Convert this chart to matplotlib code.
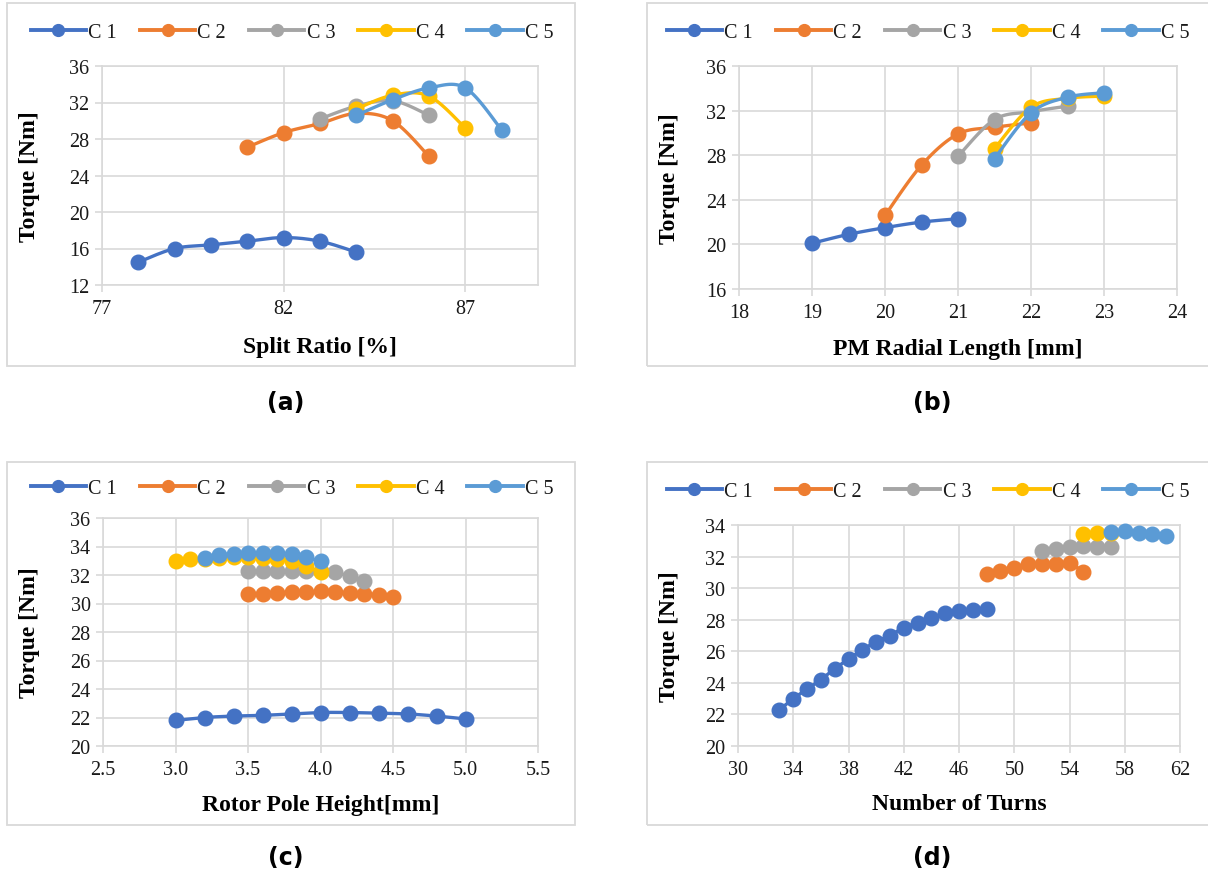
import numpy as np
import matplotlib
matplotlib.use("Agg")
import matplotlib.pyplot as plt
from matplotlib.lines import Line2D
from matplotlib.patches import Rectangle

W, H = 1208, 878
DPI = 100

# ---------------- data ----------------
series_names = ["C 1", "C 2", "C 3", "C 4", "C 5"]
colors = ["#4472C4", "#ED7D31", "#A5A5A5", "#FFC000", "#5B9BD5"]

# (a) Split ratio [%]
a_x1 = [78, 79, 80, 81, 82, 83, 84]
a_y1 = [14.5, 16.0, 16.4, 16.8, 17.2, 16.8, 15.6]
a_x2 = [81, 82, 83, 84, 85, 86]
a_y2 = [27.1, 28.7, 29.7, 30.8, 30.0, 26.1]
a_x3 = [83, 84, 85, 86]
a_y3 = [30.2, 31.6, 32.2, 30.6]
a_x4 = [84, 85, 86, 87]
a_y4 = [31.3, 32.8, 32.7, 29.2]
a_x5 = [84, 85, 86, 87, 88]
a_y5 = [30.6, 32.3, 33.6, 33.6, 29.0]

# (b) PM radial length [mm]
b_x1 = [19, 19.5, 20, 20.5, 21]
b_y1 = [20.1, 20.9, 21.5, 22.0, 22.3]
b_x2 = [20, 20.5, 21, 21.5, 22]
b_y2 = [22.6, 27.1, 29.9, 30.5, 30.9]
b_x3 = [21, 21.5, 22, 22.5]
b_y3 = [27.9, 31.2, 31.9, 32.4]
b_x4 = [21.5, 22, 22.5, 23]
b_y4 = [28.6, 32.3, 33.1, 33.3]
b_x5 = [21.5, 22, 22.5, 23]
b_y5 = [27.7, 31.8, 33.2, 33.6]

# (c) Rotor pole height [mm]
c_x1 = [3.0, 3.2, 3.4, 3.6, 3.8, 4.0, 4.2, 4.4, 4.6, 4.8, 5.0]
c_y1 = [21.8, 22.0, 22.1, 22.15, 22.25, 22.35, 22.35, 22.3, 22.25, 22.1, 21.9]
c_x2 = [3.5, 3.6, 3.7, 3.8, 3.9, 4.0, 4.1, 4.2, 4.3, 4.4, 4.5]
c_y2 = [30.7, 30.7, 30.75, 30.8, 30.8, 30.85, 30.8, 30.75, 30.7, 30.6, 30.45]
c_x3 = [3.5, 3.6, 3.7, 3.8, 3.9, 4.0, 4.1, 4.2, 4.3]
c_y3 = [32.3, 32.3, 32.3, 32.3, 32.3, 32.25, 32.2, 31.9, 31.6]
c_x4 = [3.0, 3.1, 3.2, 3.3, 3.4, 3.5, 3.6, 3.7, 3.8, 3.9, 4.0]
c_y4 = [33.0, 33.1, 33.15, 33.2, 33.25, 33.25, 33.2, 33.1, 32.95, 32.6, 32.2]
c_x5 = [3.2, 3.3, 3.4, 3.5, 3.6, 3.7, 3.8, 3.9, 4.0]
c_y5 = [33.2, 33.4, 33.5, 33.55, 33.55, 33.55, 33.45, 33.25, 32.95]

# (d) Number of turns
d_x1 = [33, 34, 35, 36, 37, 38, 39, 40, 41, 42, 43, 44, 45, 46, 47, 48]
d_y1 = [22.3, 23.0, 23.6, 24.2, 24.9, 25.5, 26.1, 26.6, 27.0, 27.5,
        27.8, 28.1, 28.4, 28.55, 28.6, 28.7]
d_x2 = [48, 49, 50, 51, 52, 53, 54, 55]
d_y2 = [30.9, 31.1, 31.3, 31.5, 31.55, 31.55, 31.6, 31.0]
d_x3 = [52, 53, 54, 55, 56, 57]
d_y3 = [32.35, 32.5, 32.6, 32.65, 32.6, 32.6]
d_x4 = [55, 56, 57]
d_y4 = [33.4, 33.5, 33.5]
d_x5 = [57, 58, 59, 60, 61]
d_y5 = [33.55, 33.6, 33.5, 33.45, 33.3]

# ---------------- helpers ----------------
plt.rcParams['font.family'] = ['Liberation Serif', 'DejaVu Serif']

fig = plt.figure(figsize=(W / DPI, H / DPI), dpi=DPI)
fig.patch.set_facecolor("white")

GRID = "#D9D9D9"
TXT = "#1A1A1A"


def fx(px):
    return px / W


def fy(py):
    return 1 - py / H


def add_axes_px(l, t, r, b):
    return fig.add_axes([fx(l), fy(b), (r - l) / W, (b - t) / H])


def smooth_curve(ax, x, y, wpx, hpx, n=24):
    x = np.asarray(x, float)
    y = np.asarray(y, float)
    x0, x1 = ax.get_xlim()
    y0, y1 = ax.get_ylim()
    sx = wpx / (x1 - x0)
    sy = hpx / (y1 - y0)
    P = np.column_stack([(x - x0) * sx, (y - y0) * sy])
    if len(P) < 3:
        return x, y
    Pext = np.vstack([P[0], P, P[-1]])
    out = []
    for i in range(1, len(Pext) - 2):
        p0, p1, p2, p3 = Pext[i - 1], Pext[i], Pext[i + 1], Pext[i + 2]
        c1 = p1 + (p2 - p0) / 6.0
        c2 = p2 - (p3 - p1) / 6.0
        t = np.linspace(0, 1, n)[:, None]
        seg = ((1 - t) ** 3) * p1 + 3 * ((1 - t) ** 2) * t * c1 + \
            3 * (1 - t) * t ** 2 * c2 + t ** 3 * p2
        if i > 1:
            seg = seg[1:]
        out.append(seg)
    Q = np.vstack(out)
    return Q[:, 0] / sx + x0, Q[:, 1] / sy + y0


def panel(box, frame, xs, ys, xlim, xticks, ylim, yticks, xlabel, ylab_x,
          xlab_y, legend_y, legend_cx, tag_xy, tag, xfmt=None):
    l, t, r, b = box
    ax = add_axes_px(l, t, r, b)
    ax.set_xlim(*xlim)
    ax.set_ylim(*ylim)
    ax.set_xticks(xticks)
    ax.set_yticks(yticks)
    if xfmt:
        ax.set_xticklabels([xfmt.format(v) for v in xticks])
    ax.grid(True, color=GRID, lw=1.2, zorder=0)
    for s in ax.spines.values():
        s.set_color(GRID)
        s.set_linewidth(1.2)
    ax.tick_params(axis='both', colors=GRID, length=5, width=1.2,
                   labelcolor=TXT, labelsize=14.5)
    ax.tick_params(axis='x', pad=5)
    ax.tick_params(axis='y', pad=4)
    wpx, hpx = r - l, b - t
    for i, (x, y) in enumerate(zip(xs, ys)):
        sx_, sy_ = smooth_curve(ax, x, y, wpx, hpx)
        ax.plot(sx_, sy_, color=colors[i], lw=2.4, zorder=3 + i * 2,
                solid_capstyle='round', clip_on=False)
        ax.plot(x, y, 'o', color=colors[i], ms=10.5, mec=colors[i],
                zorder=4 + i * 2, clip_on=False)
    fig.text(fx(ylab_x), fy((t + b) / 2), "Torque [Nm]", rotation=90,
             ha='center', va='center', fontsize=17, fontweight='bold',
             color='black')
    fig.text(fx((l + r) / 2), fy(xlab_y), xlabel, ha='center',
             va='center', fontsize=17, fontweight='bold', color='black')
    fl, ft, fr, fb = frame
    fig.patches.append(Rectangle((fx(fl), fy(fb)), (fr - fl) / W,
                                 (fb - ft) / H, transform=fig.transFigure,
                                 fill=False, edgecolor=GRID, lw=1.3))
    handles = [Line2D([0], [0], color=c, lw=2.8, marker='o', ms=8.5,
                      mec=c, mfc=c) for c in colors]
    fig.legend(handles, series_names, loc='center',
               bbox_to_anchor=(fx(legend_cx), fy(legend_y)), ncol=5,
               frameon=False, fontsize=14.5, handlelength=2.75,
               handletextpad=0.1, columnspacing=1.15, labelcolor=TXT)
    fig.text(fx(tag_xy[0]), fy(tag_xy[1]), tag, ha='center', va='center',
             fontsize=17, fontweight='bold', family='DejaVu Sans',
             color='black')
    return ax


panel((102, 67, 538, 286), (7, 4, 575, 367),
      [a_x1, a_x2, a_x3, a_x4, a_x5], [a_y1, a_y2, a_y3, a_y4, a_y5],
      (77, 89), [77, 82, 87], (12, 36), np.arange(12, 37, 4),
      "Split Ratio [%]", 30, 347, 33, 292, (286, 403), "(a)")

panel((739, 67, 1177, 290), (647, 4, 1212, 367),
      [b_x1, b_x2, b_x3, b_x4, b_x5], [b_y1, b_y2, b_y3, b_y4, b_y5],
      (18, 24), np.arange(18, 25, 1), (16, 36), np.arange(16, 37, 4),
      "PM Radial Length [mm]", 670, 350, 33, 928, (932, 403), "(b)")

panel((103, 519, 538, 747), (7, 463, 575, 826),
      [c_x1, c_x2, c_x3, c_x4, c_x5], [c_y1, c_y2, c_y3, c_y4, c_y5],
      (2.5, 5.5), np.arange(2.5, 5.51, 0.5), (20, 36), np.arange(20, 37, 2),
      "Rotor Pole Height[mm]", 30, 806, 489, 292, (286, 858), "(c)",
      xfmt="{:.1f}")

panel((738, 526, 1180, 747), (647, 463, 1212, 826),
      [d_x1, d_x2, d_x3, d_x4, d_x5], [d_y1, d_y2, d_y3, d_y4, d_y5],
      (30, 62), np.arange(30, 63, 4), (20, 34), np.arange(20, 35, 2),
      "Number of Turns", 670, 805, 492, 928, (932, 858), "(d)")

fig.savefig("out.png", dpi=DPI, facecolor="white")
